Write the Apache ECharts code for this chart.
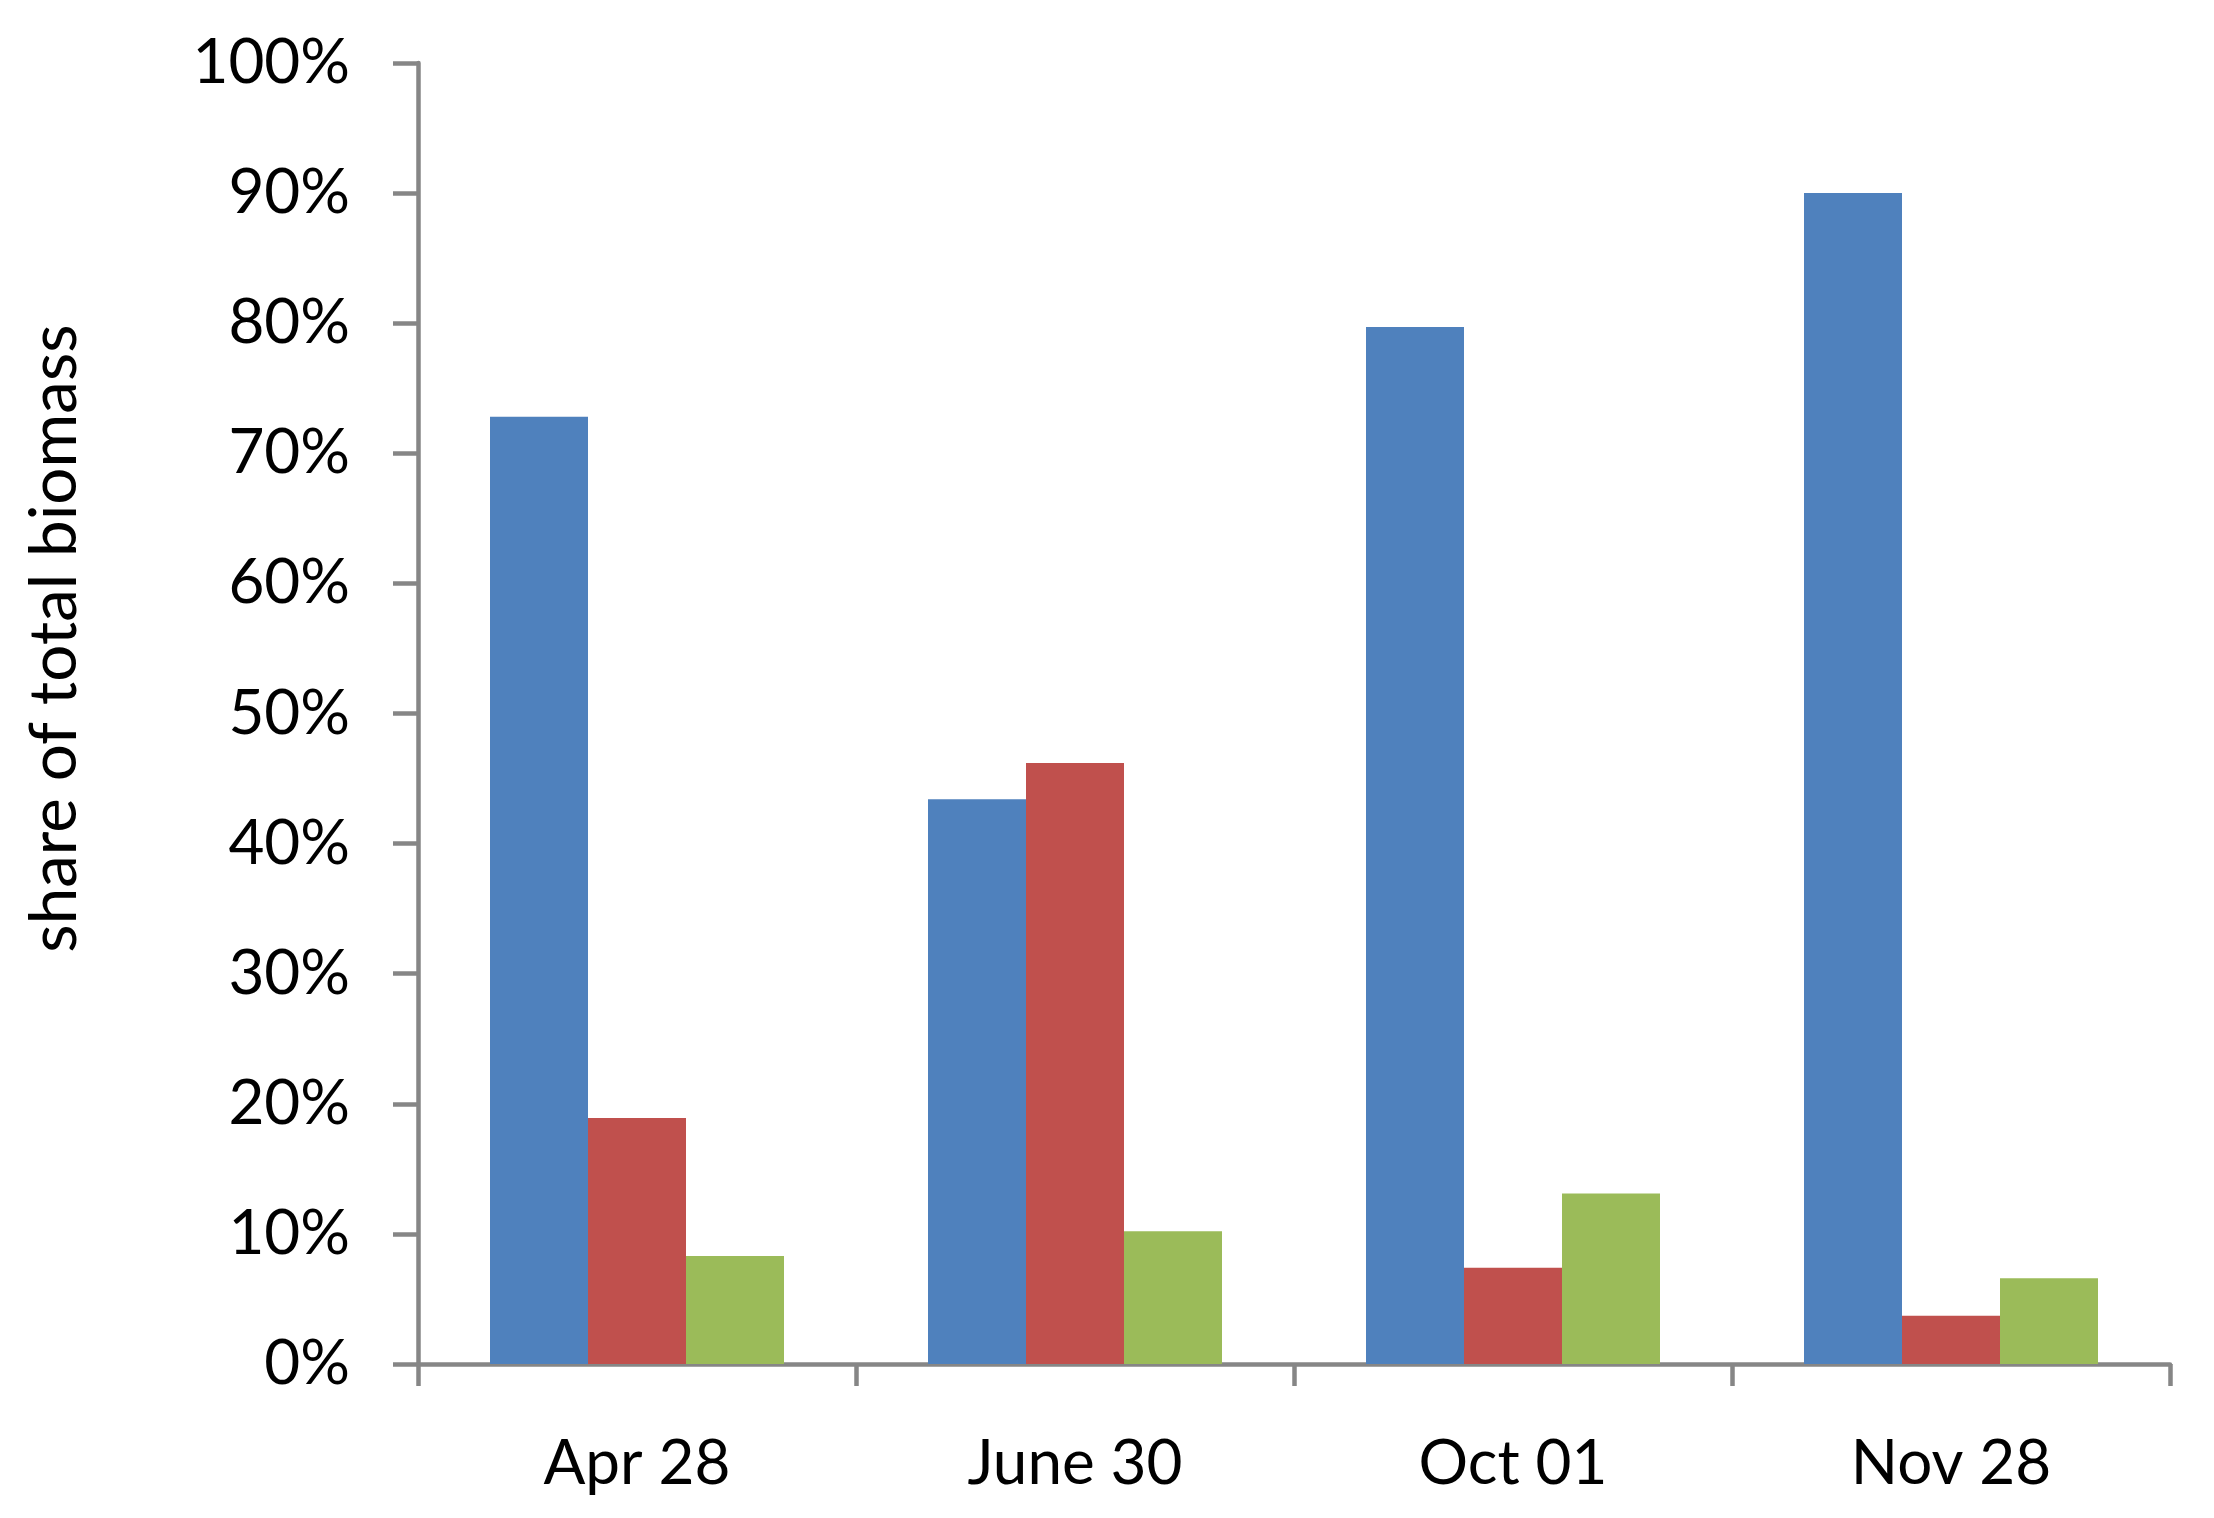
<!DOCTYPE html>
<html>
<head>
<meta charset="utf-8">
<script src="https://cdn.jsdelivr.net/npm/echarts@6/dist/echarts.min.js"></script>
<style>
html,body{margin:0;padding:0;background:#fff;}
#chart{width:2214px;height:1518px;}
</style>
</head>
<body>
<div id="chart"></div>
<script>
const categories = ['Apr 28', 'June 30', 'Oct 01', 'Nov 28'];
const series1 = [72.8, 43.4, 79.7, 90.0];
const series2 = [18.9, 46.2, 7.4, 3.7];
const series3 = [8.3, 10.2, 13.1, 6.6];
const yTicks = [0, 100, 10]; // min, max, interval

const FONT = 'Lato';
const axisGray = '#868686';

const chart = echarts.init(document.getElementById('chart'), null, {renderer: 'canvas'});
chart.setOption({
  animation: false,
  backgroundColor: '#ffffff',
  grid: {left: 418, right: 44, top: 63, bottom: 154, containLabel: false},
  xAxis: {
    type: 'category',
    data: categories,
    axisLine: {lineStyle: {color: axisGray, width: 4.5}},
    axisTick: {show: true, length: 22, lineStyle: {color: axisGray, width: 4.5}},
    axisLabel: {color: '#000', fontFamily: FONT, fontSize: 62, margin: 69}
  },
  yAxis: {
    type: 'value',
    min: yTicks[0], max: yTicks[1], interval: yTicks[2],
    name: 'share of total biomass',
    nameLocation: 'middle',
    nameRotate: 90,
    nameGap: 330,
    nameTextStyle: {color: '#000', fontFamily: FONT, fontSize: 65.5, padding: [0, 0, 0, 150]},
    axisLine: {show: true, lineStyle: {color: axisGray, width: 4.5}},
    axisTick: {show: true, length: 25, lineStyle: {color: axisGray, width: 4.5}},
    splitLine: {show: false},
    axisLabel: {color: '#000', fontFamily: FONT, fontSize: 62, margin: 68, formatter: '{value}%'}
  },
  series: [
    {name: 'Series 1', type: 'bar', data: series1, barWidth: 98, barGap: '0%', itemStyle: {color: '#4F81BD'}},
    {name: 'Series 2', type: 'bar', data: series2, barWidth: 98, barGap: '0%', itemStyle: {color: '#C0504D'}},
    {name: 'Series 3', type: 'bar', data: series3, barWidth: 98, barGap: '0%', itemStyle: {color: '#9BBB59'}}
  ]
});
</script>
</body>
</html>
